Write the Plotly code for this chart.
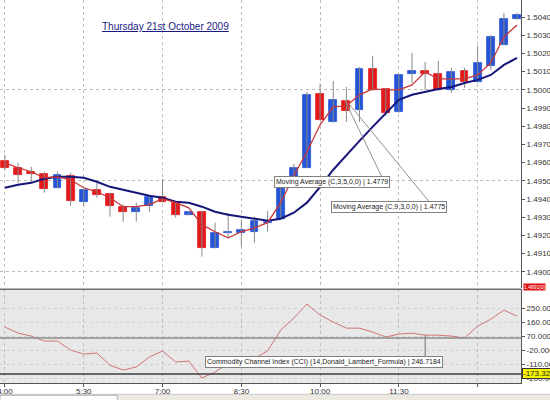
import plotly.graph_objects as go

# 15 minute EUR/USD candles, Thursday 21st October 2009
day = "2009-10-21 "
times = ["04:00", "04:15", "04:30", "04:45", "05:00", "05:15", "05:30", "05:45",
         "06:00", "06:15", "06:30", "06:45", "07:00", "07:15", "07:30", "07:45",
         "08:00", "08:15", "08:30", "08:45", "09:00", "09:15", "09:30", "09:45",
         "10:00", "10:15", "10:30", "10:45", "11:00", "11:15", "11:30", "11:45",
         "12:00", "12:15", "12:30", "12:45", "13:00", "13:15", "13:30", "13:45"]

opens = [1.49610, 1.49572, 1.49550, 1.49539, 1.49462, 1.49528, 1.49385, 1.49451,
         1.49429, 1.49358, 1.49330, 1.49363, 1.49413, 1.49380, 1.49314, 1.49330,
         1.49133, 1.49215, 1.49215, 1.49220, 1.49270, 1.49292, 1.49517, 1.49572,
         1.49978, 1.49824, 1.49940, 1.49890, 1.50115, 1.50005, 1.49879, 1.50088,
         1.50104, 1.50088, 1.50000, 1.50104, 1.50044, 1.50132, 1.50247, 1.50390]
highs = [1.49643, 1.49599, 1.49577, 1.49550, 1.49550, 1.49544, 1.49456, 1.49489,
         1.49435, 1.49369, 1.49380, 1.49418, 1.49511, 1.49385, 1.49330, 1.49336,
         1.49270, 1.49325, 1.49286, 1.49303, 1.49336, 1.49489, 1.49594, 1.49989,
         1.50033, 1.50049, 1.50016, 1.50126, 1.50187, 1.50011, 1.50088, 1.50203,
         1.50154, 1.50159, 1.50121, 1.50121, 1.50242, 1.50302, 1.50423, 1.50423]
lows = [1.49561, 1.49489, 1.49495, 1.49435, 1.49458, 1.49363, 1.49363, 1.49407,
        1.49303, 1.49275, 1.49275, 1.49330, 1.49380, 1.49297, 1.49310, 1.49083,
        1.49130, 1.49193, 1.49138, 1.49160, 1.49220, 1.49290, 1.49515, 1.49570,
        1.49835, 1.49820, 1.49824, 1.49824, 1.49995, 1.49857, 1.49875, 1.50038,
        1.50000, 1.49995, 1.49984, 1.50011, 1.50040, 1.50110, 1.50245, 1.50385]
closes = [1.49572, 1.49533, 1.49539, 1.49456, 1.49533, 1.49391, 1.49451, 1.49424,
          1.49363, 1.49330, 1.49352, 1.49413, 1.49385, 1.49314, 1.49330, 1.49133,
          1.49215, 1.49220, 1.49231, 1.49281, 1.49275, 1.49484, 1.49572, 1.49973,
          1.49835, 1.49945, 1.49885, 1.50115, 1.50000, 1.49874, 1.50082, 1.50104,
          1.50088, 1.50000, 1.50099, 1.50044, 1.50148, 1.50291, 1.50390, 1.50412]

# Moving Average (C,3,5,0,0) and (C,9,3,0,0)
ma_fast = [1.49599, 1.49572, 1.49550, 1.49517, 1.49522, 1.49506, 1.49462, 1.49440,
           1.49407, 1.49358, 1.49358, 1.49369, 1.49402, 1.49380, 1.49352, 1.49259,
           1.49220, 1.49187, 1.49220, 1.49242, 1.49270, 1.49380, 1.49528, 1.49660,
           1.49808, 1.49907, 1.49912, 1.49973, 1.50005, 1.50000, 1.50000, 1.50027,
           1.50099, 1.50060, 1.50060, 1.50060, 1.50082, 1.50148, 1.50291, 1.50357]
ma_slow = [1.49462, 1.49478, 1.49489, 1.49511, 1.49522, 1.49522, 1.49517, 1.49495,
           1.49467, 1.49451, 1.49435, 1.49418, 1.49407, 1.49385, 1.49380, 1.49358,
           1.49330, 1.49314, 1.49303, 1.49292, 1.49281, 1.49292, 1.49325, 1.49380,
           1.49467, 1.49561, 1.49643, 1.49720, 1.49797, 1.49874, 1.49945, 1.49973,
           1.49989, 1.50005, 1.50016, 1.50038, 1.50055, 1.50082, 1.50137, 1.50176]

# Commodity Channel Index (14)
cci = [128, 89, 70, 38, 38, -20, -46, -39, -117, -149, -129, -65, -26, -97, -91, -200,
       -162, -104, -84, -72, -26, 109, 186, 276, 205, 160, 121, 121, 96, 64, 83, 89,
       76, 76, 70, 57, 134, 179, 237, 199]

price_ticks = [1.4900, 1.4910, 1.4920, 1.4930, 1.4940, 1.4950, 1.4960, 1.4970,
               1.4980, 1.4990, 1.5000, 1.5010, 1.5020, 1.5030, 1.5040]
price_grid = [1.4900, 1.4950, 1.5000]
cci_ticks = [250, 160, 70, -20, -110, -200]
cci_labels = ["250.0000", "160.0000", "70.0000[", "-20.0000", "-110.000", "-200.000"]
time_ticks = ["04:00", "05:30", "07:00", "08:30", "10:00", "11:30", "13:00"]
time_labels = ["4:00", "5:30", "7:00", "8:30", "10:00", "11:30", ""]

FONT = "Liberation Sans"
UP = "#2656d8"
DOWN = "#e3191b"

x = [day + t for t in times]
body_col = [UP if c >= o else DOWN for o, c in zip(opens, closes)]

wick_x, wick_y = [], []
for t, lo, hi in zip(x, lows, highs):
    wick_x += [t, t, None]
    wick_y += [lo, hi, None]

fig = go.Figure()

fig.add_trace(go.Scatter(x=wick_x, y=wick_y, mode="lines", xaxis="x", yaxis="y",
                         line=dict(color="#8a8a8a", width=1), hoverinfo="skip"))
fig.add_trace(go.Bar(x=x, y=[c - o for o, c in zip(opens, closes)], base=opens,
                     xaxis="x", yaxis="y", width=9 * 60 * 1000,
                     marker=dict(color=body_col, line=dict(color=body_col, width=0.8))))
fig.add_trace(go.Scatter(x=x, y=ma_slow, mode="lines", xaxis="x", yaxis="y3",
                         line=dict(color="#15157a", width=2)))
fig.add_trace(go.Scatter(x=x, y=ma_fast, mode="lines", xaxis="x", yaxis="y3",
                         line=dict(color="#c8373a", width=1.3)))
fig.add_trace(go.Scatter(x=x, y=cci, mode="lines", xaxis="x2", yaxis="y2",
                         line=dict(color="#d27373", width=1)))

x_range = [day + "03:54:20", day + "13:49:30"]
price_range = [1.48913, 1.50494]
grid = dict(showgrid=True, gridcolor="#bdbdbd", griddash="dot", gridwidth=1)

fig.update_layout(
    width=550, height=400,
    margin=dict(l=0, r=29, t=0, b=17),
    paper_bgcolor="white", plot_bgcolor="white",
    showlegend=False, bargap=0,
    font=dict(family=FONT, size=8, color="#333333"),
    xaxis=dict(type="date", range=x_range, anchor="y", tickvals=[day + t for t in time_ticks],
               showticklabels=False, zeroline=False, automargin=False, **grid),
    xaxis2=dict(type="date", range=x_range, anchor="y2", matches="x",
                tickvals=[day + t for t in time_ticks], ticktext=time_labels,
                ticks="outside", ticklen=3, tickcolor="#555555",
                ticklabelstandoff=-3, ticklabeloverflow="allow",
                showline=True, linecolor="#555555", linewidth=1,
                tickfont=dict(size=8, color="#333333"), automargin=False, **grid),
    yaxis=dict(domain=[0.249, 1], range=price_range, side="right", anchor="x",
               tickvals=price_grid, showticklabels=False, zeroline=False,
               automargin=False, **grid),
    yaxis3=dict(overlaying="y", matches="y", range=price_range, side="right", anchor="x",
                tickvals=price_ticks, ticktext=[f"{v:.4f}[0]" for v in price_ticks],
                ticks="outside", ticklen=3, tickcolor="#555555",
                showline=True, linecolor="#555555", linewidth=1, showgrid=False,
                zeroline=False, tickfont=dict(size=8, color="#333333"), automargin=False),
    yaxis2=dict(domain=[0, 0.245], range=[-232, 372], side="right", anchor="x2",
                tickvals=cci_ticks, ticktext=cci_labels,
                ticks="outside", ticklen=3, tickcolor="#555555",
                showline=True, linecolor="#555555", linewidth=1, zeroline=False,
                showgrid=True, gridcolor="#d2d2d2", griddash="dot",
                tickfont=dict(size=8, color="#333333"), automargin=False),
)

# CCI panel background, separator and level lines
fig.add_shape(type="rect", xref="x2 domain", yref="y2 domain", x0=0, x1=1, y0=0, y1=1,
              fillcolor="#e8e8e8", line_width=0, layer="below")
fig.add_shape(type="line", xref="x2 domain", yref="y2 domain", x0=0, x1=1, y0=1, y1=1,
              line=dict(color="#6e6e6e", width=1.5))
fig.add_shape(type="line", xref="x2 domain", yref="y2", x0=0, x1=1, y0=57, y1=57,
              line=dict(color="#8c8c8c", width=1.5))
fig.add_shape(type="line", xref="x2 domain", yref="y2", x0=0, x1=1, y0=-173.32, y1=-173.32,
              line=dict(color="#3c3c3c", width=1.5))

# pointer lines of the indicator tooltips
fig.add_shape(type="line", xref="x", yref="y", x0=day + "10:28", y0=1.49945,
              x1=day + "11:11", y1=1.49517, line=dict(color="#909090", width=1))
fig.add_shape(type="line", xref="x", yref="y", x0=day + "10:32", y0=1.49929,
              x1=day + "12:05:30", y1=1.49380, line=dict(color="#909090", width=1))
fig.add_shape(type="line", xref="x2", yref="y2", x0=day + "12:00", y0=76,
              x1=day + "12:00", y1=-84, line=dict(color="#707070", width=1))

box = dict(showarrow=False, bgcolor="white", bordercolor="#808080", borderwidth=1,
           borderpad=1, font=dict(family=FONT, size=7, color="#222222"))
fig.add_annotation(x=day + "10:14", y=1.49492, xref="x", yref="y",
                   text="Moving Average (C,3,5,0,0) | 1.4779", **box)
fig.add_annotation(x=day + "11:19", y=1.49358, xref="x", yref="y",
                   text="Moving Average (C,9,3,0,0) | 1.4775", **box)
fig.add_annotation(x=day + "10:04", y=-94, xref="x2", yref="y2",
                   text="Commodity Channel Index (CCI) (14,Donald_Lambert_Formula) | 246.7184",
                   **box)

# title and price markers on the right scale
fig.add_annotation(x=0.317, y=0.93, xref="paper", yref="paper", showarrow=False,
                   xanchor="center", yanchor="middle",
                   text="<u>Thursday 21st October 2009</u>",
                   font=dict(family=FONT, size=10, color="#1a1a86"))
fig.add_annotation(x=1, y=1.48918, xref="paper", yref="y", xanchor="left", xshift=2,
                   showarrow=False, text="1.4891[0]", bgcolor="#e01010",
                   font=dict(family=FONT, size=5, color="white"), borderpad=0)
fig.add_annotation(x=1, y=-173.32, xref="paper", yref="y2", xanchor="left", xshift=1,
                   showarrow=False, text="-173.32", bgcolor="#f4f400",
                   bordercolor="#333333", borderwidth=1, borderpad=0,
                   font=dict(family=FONT, size=8, color="#222222"))

# bottom toolbar strip of the platform window
fig.add_shape(type="rect", xref="paper", yref="paper", x0=-0.01, x1=1.06,
              y0=-0.05, y1=-0.0295, fillcolor="#ece9e0", layer="below",
              line=dict(color="#c8c8c8", width=1))
fig.add_shape(type="rect", xref="paper", yref="paper", x0=0.0, x1=0.225,
              y0=-0.05, y1=-0.032, fillcolor="white", layer="below",
              line=dict(color="#b0b0b0", width=1))

# the page body has a default 8px margin; drop it so the chart sits at the corner
fig.write_html("out.html", config={"displayModeBar": False},
               post_script="document.body.style.margin='0';")
